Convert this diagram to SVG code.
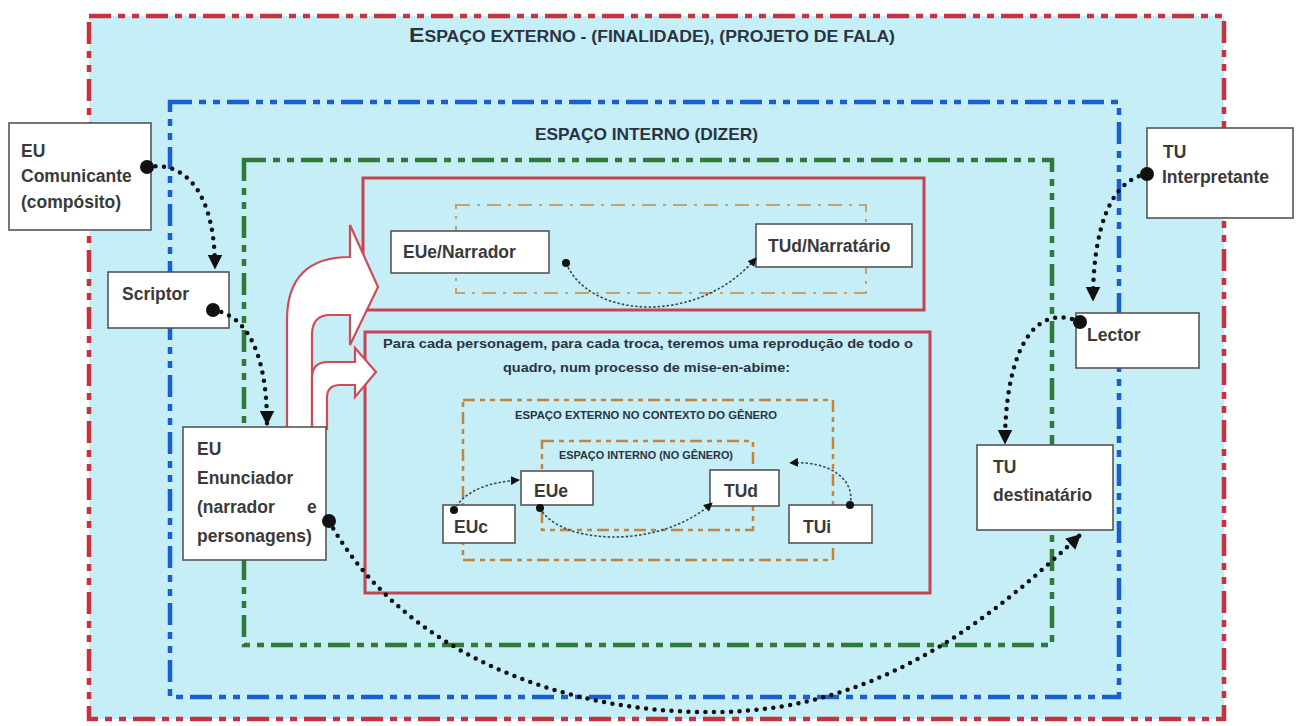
<svg xmlns="http://www.w3.org/2000/svg" width="1296" height="726" viewBox="0 0 1296 726">
<style>
.t{font-family:"Liberation Sans",Arial,sans-serif;font-weight:bold;fill:#3a3a3a;font-size:17.5px}
.h{font-family:"Liberation Sans",Arial,sans-serif;font-weight:bold;fill:#2b3340}
.frame{fill:none;stroke-width:4.5;stroke-dasharray:22 7 7 7 7 7}
.rbox{fill:none;stroke:#c44452;stroke-width:3}
.node rect{fill:#fff;stroke:#555;stroke-width:1.6}
.big{fill:none;stroke:#111;stroke-width:4.5;stroke-linecap:round;stroke-dasharray:0 8.5}
.thin{fill:none;stroke:#3d4750;stroke-width:1.6;stroke-dasharray:2.5 2}
.harrow{fill:#fff;stroke:#cf4b57;stroke-width:2.2;stroke-linejoin:miter}
</style>
<defs>
<marker id="ah" viewBox="0 0 10 10" refX="9" refY="5" markerWidth="15" markerHeight="15" markerUnits="userSpaceOnUse" orient="auto"><path d="M0,0 L10,5 L0,10 z" fill="#111"/></marker>
<marker id="ahs" viewBox="0 0 10 10" refX="9" refY="5" markerWidth="9" markerHeight="9" markerUnits="userSpaceOnUse" orient="auto"><path d="M0,0 L10,5 L0,10 z" fill="#111"/></marker>
<marker id="dot" viewBox="0 0 10 10" refX="5" refY="5" markerWidth="14" markerHeight="14" markerUnits="userSpaceOnUse"><circle cx="5" cy="5" r="5" fill="#111"/></marker>
<marker id="dots" viewBox="0 0 10 10" refX="5" refY="5" markerWidth="8" markerHeight="8" markerUnits="userSpaceOnUse"><circle cx="5" cy="5" r="5" fill="#111"/></marker>
</defs>
<rect x="0" y="0" width="1296" height="726" fill="#fff"/>
<rect x="89" y="16" width="1135" height="703" fill="#c6eef6"/>

<g id="frames">
<rect class="frame" x="89" y="16" width="1135" height="703" stroke="#c8323c"/>
<rect class="frame" x="170" y="102" width="949" height="595" stroke="#1a5fcf"/>
<rect class="frame" x="244" y="160" width="808" height="485" stroke="#2f7a3a"/>
<rect class="rbox" x="363" y="178" width="561" height="132"/>
<rect class="rbox" x="365" y="332" width="565" height="261"/>
<rect x="456" y="205" width="410" height="88" fill="none" stroke="#c9a26b" stroke-width="2" stroke-dasharray="14 7 3 7"/>
<rect x="463" y="400" width="370" height="160" fill="none" stroke="#c4843c" stroke-width="2.5" stroke-dasharray="12 5 5 5 5 5"/>
<rect x="542" y="441" width="211" height="89" fill="none" stroke="#c4843c" stroke-width="2.5" stroke-dasharray="12 5 5 5 5 5"/>
</g>

<g id="labels">
<text class="h" x="409" y="42" font-size="16" textLength="486" lengthAdjust="spacingAndGlyphs"><tspan font-size="21">E</tspan>SPAÇO EXTERNO - (FINALIDADE), (PROJETO DE FALA)</text>
<text class="h" x="535" y="140" font-size="17" textLength="223" lengthAdjust="spacingAndGlyphs">ESPAÇO INTERNO (DIZER)</text>
<text class="h" x="383" y="348" font-size="13" textLength="530" lengthAdjust="spacingAndGlyphs">Para cada personagem, para cada troca, teremos uma reprodução de todo o</text>
<text class="h" x="503" y="372" font-size="13" textLength="287" lengthAdjust="spacingAndGlyphs">quadro, num processo de mise-en-abime:</text>
<text class="h" x="515" y="419" font-size="10.5" textLength="262" lengthAdjust="spacingAndGlyphs">ESPAÇO EXTERNO NO CONTEXTO DO GÊNERO</text>
<text class="h" x="559" y="459" font-size="10.5" textLength="174" lengthAdjust="spacingAndGlyphs">ESPAÇO INTERNO (NO GÊNERO)</text>
</g>

<g id="hollow-arrows">
<path class="harrow" d="M287,429 L287,320 Q287,257 350,257 L350,225 L378,287 L350,345 L350,315 L330,315 Q312,315 312,335 L312,429 Z"/>
<path class="harrow" d="M312,429 L312,378 Q312,362 328,362 L355,362 L355,348 L376,372 L355,397 L355,385 L340,385 Q327,385 327,398 L327,429 Z"/>
</g>

<g id="n-eu-comunicante" class="node"><rect x="9" y="123" width="142" height="107"/>
<text class="t" x="21" y="157">EU</text><text class="t" x="21" y="182">Comunicante</text><text class="t" x="21" y="208">(compósito)</text></g>
<g id="n-scriptor" class="node"><rect x="108" y="272" width="121" height="56"/><text class="t" x="122" y="300">Scriptor</text></g>
<g id="n-eu-enunciador" class="node"><rect x="183" y="427" width="143" height="133"/>
<text class="t" x="197" y="455">EU</text><text class="t" x="197" y="484">Enunciador</text><text class="t" x="197" y="513">(narrador</text><text class="t" x="307" y="513">e</text><text class="t" x="197" y="542">personagens)</text></g>
<g id="n-eue-narrador" class="node"><rect x="391" y="231" width="158" height="42"/><text class="t" x="403" y="258">EUe/Narrador</text></g>
<g id="n-tud-narratario" class="node"><rect x="756" y="224" width="156" height="43"/><text class="t" x="768" y="252">TUd/Narratário</text></g>
<g id="n-eue" class="node"><rect x="521" y="471" width="72" height="34"/><text class="t" x="534" y="497" font-size="17">EUe</text></g>
<g id="n-euc" class="node"><rect x="443" y="505" width="72" height="38"/><text class="t" x="454" y="533" font-size="17">EUc</text></g>
<g id="n-tud" class="node"><rect x="710" y="470" width="69" height="36"/><text class="t" x="724" y="497" font-size="17">TUd</text></g>
<g id="n-tui" class="node"><rect x="789" y="505" width="83" height="38"/><text class="t" x="803" y="533" font-size="17">TUi</text></g>
<g id="n-tu-interpretante" class="node"><rect x="1147" y="128" width="146" height="90"/>
<text class="t" x="1163" y="158">TU</text><text class="t" x="1162" y="183">Interpretante</text></g>
<g id="n-lector" class="node"><rect x="1076" y="313" width="123" height="55"/><text class="t" x="1087" y="341">Lector</text></g>
<g id="n-tu-destinatario" class="node"><rect x="977" y="445" width="136" height="85"/>
<text class="t" x="993" y="473">TU</text><text class="t" x="993" y="501">destinatário</text></g>

<g id="connectors">
<path class="big" d="M147,167 C190,160 215,200 215,268" marker-start="url(#dot)" marker-end="url(#ah)"/>
<path class="big" d="M213,310 C245,315 267,350 267,424" marker-start="url(#dot)" marker-end="url(#ah)"/>
<path class="big" d="M329,521 C400,650 560,715 720,712 C880,709 990,620 1080,535" marker-start="url(#dot)" marker-end="url(#ah)"/>
<path class="big" d="M1147,174 C1110,180 1093,230 1093,300" marker-start="url(#dot)" marker-end="url(#ah)"/>
<path class="big" d="M1080,322 C1030,300 1005,360 1005,443" marker-start="url(#dot)" marker-end="url(#ah)"/>
<path class="thin" d="M566,263 C590,320 700,325 756,258" marker-start="url(#dots)" marker-end="url(#ahs)"/>
<path class="thin" d="M454,510 C465,490 490,482 519,480" marker-start="url(#dots)" marker-end="url(#ahs)"/>
<path class="thin" d="M540,508 C560,545 660,550 712,503" marker-start="url(#dots)" marker-end="url(#ahs)"/>
<path class="thin" d="M850,505 C856,480 830,460 790,463" marker-start="url(#dots)" marker-end="url(#ahs)"/>
</g>
</svg>
